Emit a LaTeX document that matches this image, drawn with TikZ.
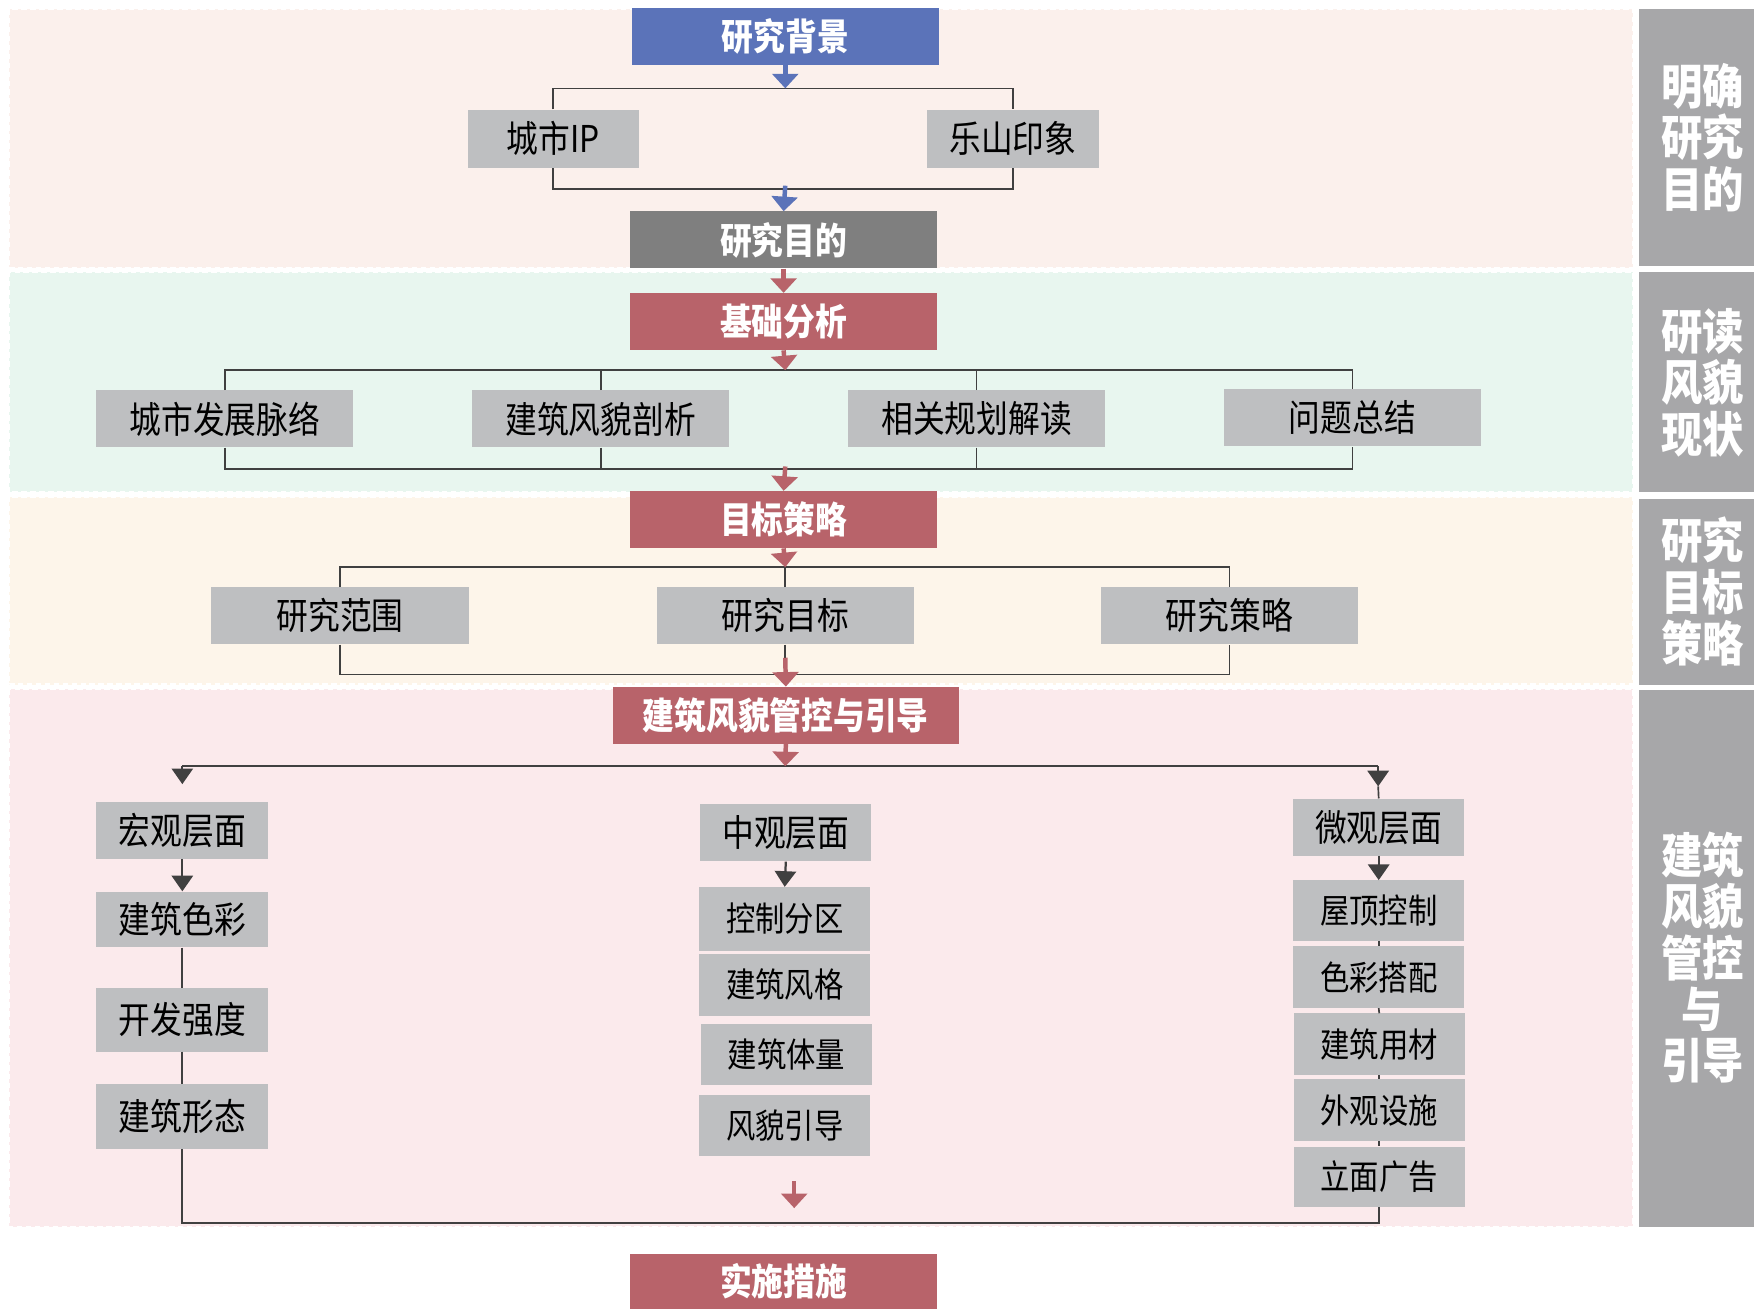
\documentclass[tikz,border=0pt]{standalone}
\usepackage{fontspec}
\setmainfont{Noto Sans CJK SC}
\newfontfamily\cjk[FakeStretch=0.86]{Noto Sans CJK SC}
\usetikzlibrary{arrows.meta}
\definecolor{bandA}{HTML}{FBF0EC}
\definecolor{bandB}{HTML}{E8F6EF}
\definecolor{bandC}{HTML}{FDF5EA}
\definecolor{bandD}{HTML}{FBEAEC}
\definecolor{side}{HTML}{A7A7A9}
\definecolor{blueb}{HTML}{5B73B9}
\definecolor{redb}{HTML}{B8636A}
\definecolor{grayb}{HTML}{7F7F7F}
\definecolor{lightb}{HTML}{BEBFC1}
\definecolor{conn}{HTML}{404040}
\tikzset{
  x=1pt, y=-1pt,
  band/.style={fill=#1, draw=white, line width=2pt, dash pattern=on 5pt off 3pt},
  title/.style={fill=#1, text=white, inner sep=0pt, minimum width=275pt, minimum height=51pt,
    font=\cjk\bfseries\fontsize{33}{38}\selectfont},
  item/.style={fill=lightb, text=black, inner sep=0pt, minimum height=51pt,
    font=\cjk\fontsize{33}{38}\selectfont},
  subitem/.style={fill=lightb, text=black, inner sep=0pt, minimum width=153pt,
    font=\cjk\fontsize{30.5}{35}\selectfont},
  sidebox/.style={fill=side, inner sep=0pt, minimum width=103pt},
  sidetext/.style={text=white, align=center, inner sep=0pt,
    font=\cjk\bfseries\fontsize{43}{46}\selectfont},
  line/.style={draw=conn, line width=1.5pt},
  barrow/.style={draw=blueb, line width=4pt, -{Triangle[width=23pt,length=13pt]}},
  rarrow/.style={draw=redb, line width=4pt, -{Triangle[width=23pt,length=13pt]}},
  darrow/.style={draw=conn, line width=2pt, -{Triangle[width=19pt,length=14pt]}},
}
\begin{document}
\begin{tikzpicture}
\useasboundingbox (0,0) rectangle (1568,1170);
\fill[white] (0,0) rectangle (1568,1170);
% bands
\path[band=bandA] (8,8) rectangle (1460,240);
\path[band=bandB] (8,243) rectangle (1460,440);
\path[band=bandC] (8,444) rectangle (1460,612);
\path[band=bandD] (8,616) rectangle (1460,1097);
% side column
\node[sidebox, minimum height=230pt] (S1) at (1516.5,123) {};
\node[sidebox, minimum height=197pt] (S2) at (1516.5,341.5) {};
\node[sidebox, minimum height=166pt] (S3) at (1516.5,529) {};
\node[sidebox, minimum height=480pt] (S4) at (1516.5,857) {};
\node[sidetext] (S1t) at (1522,123) {明确\\研究\\目的};
\node[sidetext] (S2t) at (1522,342) {研读\\风貌\\现状};
\node[sidetext] (S3t) at (1522,529) {研究\\目标\\策略};
\node[sidetext] (S4t) at (1522,856) {建筑\\风貌\\管控\\与\\引导};
% main nodes
\node[title=blueb, minimum width=274pt] (bg) at (702,32.5) {研究背景};
\node[item, minimum width=153pt, minimum height=52pt] (ip) at (494.5,124) {城市IP};
\node[item, minimum width=153pt, minimum height=52pt] (ls) at (905.5,124) {乐山印象};
\node[title=grayb] (md) at (700.5,214.5) {研究目的};
\node[title=redb] (ba) at (700.5,287.5) {基础分析};
\node[item, minimum width=230pt] (a1) at (201,374.5) {城市发展脉络};
\node[item, minimum width=230pt] (a2) at (537,374.5) {建筑风貌剖析};
\node[item, minimum width=230pt] (a3) at (873,374.5) {相关规划解读};
\node[item, minimum width=230pt] (a4) at (1209,373.5) {问题总结};
\node[title=redb] (ts) at (700.5,464.5) {目标策略};
\node[item, minimum width=230pt] (s1) at (304,550.5) {研究范围};
\node[item, minimum width=230pt] (s2) at (702,550.5) {研究目标};
\node[item, minimum width=230pt] (s3) at (1099,550.5) {研究策略};
\node[title=redb, minimum width=309pt] (gk) at (702.5,639.5) {建筑风貌管控与引导};
% macro column
\node[item, minimum width=154pt] (L1) at (163,742.5) {宏观层面};
\node[item, minimum width=154pt, minimum height=50pt] (L2) at (163,822) {建筑色彩};
\node[item, minimum width=154pt, minimum height=57pt] (L3) at (163,911.5) {开发强度};
\node[item, minimum width=154pt, minimum height=58pt] (L4) at (163,998) {建筑形态};
% meso column
\node[item, minimum width=153pt] (M1) at (702.5,744.5) {中观层面};
\node[subitem, minimum height=57pt] (M2) at (701.5,821.5) {控制分区};
\node[subitem, minimum height=55pt] (M3) at (701.5,880.5) {建筑风格};
\node[subitem, minimum height=55pt] (M4) at (703,942.5) {建筑体量};
\node[subitem, minimum height=54pt] (M5) at (701.5,1006) {风貌引导};
% micro column
\node[item, minimum width=153pt] (R1) at (1232.5,739.5) {微观层面};
\node[subitem, minimum height=54pt] (R2) at (1232.5,814) {屋顶控制};
\node[subitem, minimum height=55pt] (R3) at (1232.5,873.5) {色彩搭配};
\node[subitem, minimum height=55pt] (R4) at (1233,933.5) {建筑用材};
\node[subitem, minimum height=55pt] (R5) at (1233,992.5) {外观设施};
\node[subitem, minimum height=54pt] (R6) at (1233,1052) {立面广告};
\node[title=redb, minimum height=49pt] (ss) at (700.5,1145.5) {实施措施};
% junction coordinates
\coordinate (j1) at (702,79);
\coordinate (j2) at (702,169);
\coordinate (j2a) at (702,166);
\coordinate (j3) at (702,331);
\coordinate (j4) at (702,419);
\coordinate (j4a) at (702,417);
\coordinate (j5) at (702,507);
\coordinate (j6) at (702,603);
\coordinate (j6a) at (702,588);
\coordinate (j7) at (702,685);
\coordinate (jL) at (163,685);
\coordinate (jLt) at (163,701);
\coordinate (jR) at (1232,685);
\coordinate (jRt) at (1232,703);
\coordinate (jB) at (700,1093);
\coordinate (r1) at (710,1056);
\coordinate (r2) at (710,1080);
% connectors: top
\draw[line] (ip.north) |- (j1) -| (ls.north);
\draw[line] (ip.south) |- (j2) -| (ls.south);
\draw[barrow] (bg.south) -- (j1);
\draw[barrow] (j2a) -- (md.north);
\draw[rarrow] (md.south) -- (ba.north);
% analysis bracket
\draw[line] (a1.north) |- (j3) -| (a4.north);
\draw[line] (a2.north) -- (a2.north |- j3);
\draw[line] (a3.north) -- (a3.north |- j3);
\draw[line] (a1.south) |- (j4) -| (a4.south);
\draw[line] (a2.south) -- (a2.south |- j4);
\draw[line] (a3.south) -- (a3.south |- j4);
\draw[rarrow] (ba.south) -- (j3);
\draw[rarrow] (j4a) -- (ts.north);
% strategy bracket
\draw[line] (s1.north) |- (j5) -| (s3.north);
\draw[line] (s2.north) -- (j5);
\draw[line] (s1.south) |- (j6) -| (s3.south);
\draw[line] (s2.south) -- (j6);
\draw[rarrow] (ts.south) -- (j5);
\draw[rarrow] (j6a) -- (gk.north);
% control split
\draw[line] (jL) -- (jR);
\draw[rarrow] (gk.south) -- (j7);
\draw[darrow] (jL) -- (jLt);
\draw[darrow] (jR) -- (jRt);
\draw[line] (jRt) -- (R1.north);
\draw[darrow] (L1.south) -- (L2.north);
\draw[darrow] (M1.south) -- (M2.north);
\draw[darrow] (R1.south) -- (R2.north);
\draw[line] (L2.south) -- (L3.north);
\draw[line] (L3.south) -- (L4.north);
\draw[line] (R2.south) -- (R3.north);
\draw[line] (R3.south) -- (R4.north);
\draw[line] (R4.south) -- (R5.north);
\draw[line] (R5.south) -- (R6.north);
\draw[line] (L4.south) |- (jB) -| (R6.south);
\draw[rarrow] (r1) -- (r2);
\end{tikzpicture}
\end{document}
